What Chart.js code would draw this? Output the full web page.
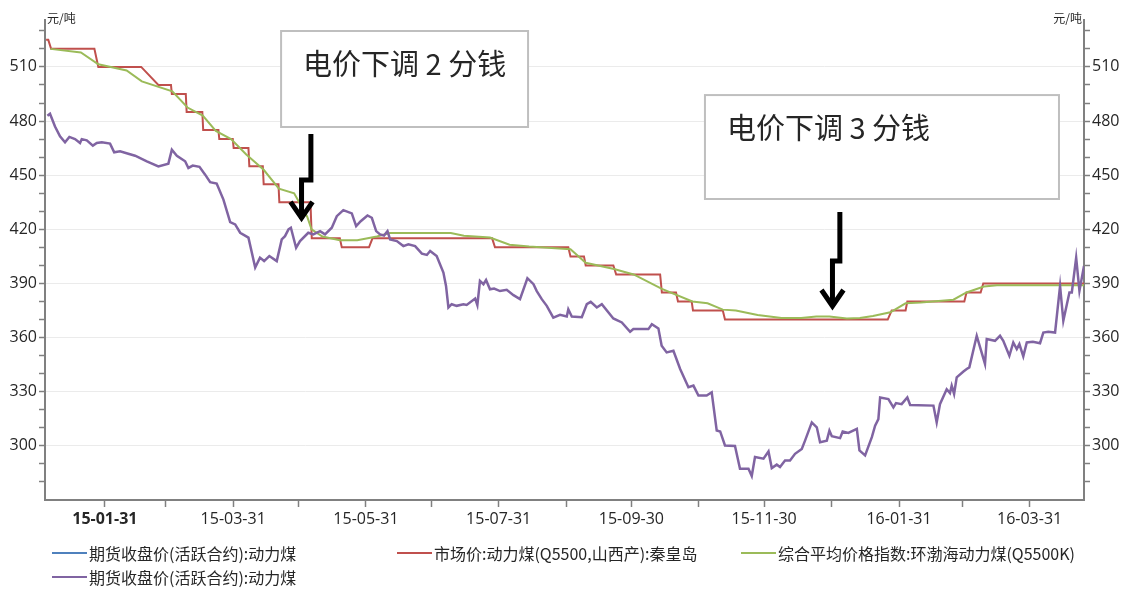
<!DOCTYPE html>
<html>
<head>
<meta charset="utf-8">
<script src="https://cdn.jsdelivr.net/npm/chart.js@4.4.1/dist/chart.umd.min.js"></script>
<style>
  html, body { margin: 0; padding: 0; background: #fff; }
  #wrap { position: relative; width: 1128px; height: 589px; }
  #legend { position: absolute; left: 0; top: 0; width: 1128px; height: 589px; pointer-events: none;
            font-family: "Noto Sans CJK SC", "Noto Sans", sans-serif; font-size: 16px; color: #262626; }
  .item { position: absolute; display: flex; align-items: center; white-space: nowrap; transform: translateY(-50%); }
  .item i { display: inline-block; width: 35px; height: 2px; margin-right: 2px; }
</style>
</head>
<body>
<div id="wrap"><canvas id="c"></canvas><div id="legend"></div></div>
<script>
// x values are days since 2015-01-01
const seriesNames = [
  "期货收盘价(活跃合约):动力煤",
  "市场价:动力煤(Q5500,山西产):秦皇岛",
  "综合平均价格指数:环渤海动力煤(Q5500K)",
  "期货收盘价(活跃合约):动力煤",
];

const futuresBlue = [];

const marketPrice = [
  [3,525],[4,525],[5.3,520],[25.2,520],[27,510],[46.7,510],[54.6,500],[60.4,500],[60.8,495],
  [67.2,495],[67.6,485],[74.8,485],[75.2,475],[82.2,475],[82.6,470],[88.8,470],[89.2,465],
  [96,465],[96.4,455],[102.6,455],[103,445],[109.8,445],[110.2,435],[124.5,435],[125.1,415],
  [138,415],[138.9,410],[151.4,410],[153,415],[208,415],[209.3,410],[243,410],[244,405],
  [250.2,405],[251,400],[263.7,400],[265,395],[285.2,395],[286,385],[292.5,385],[293.4,380],
  [299.7,380],[300.3,375],[314,375],[315,370],[389.8,370],[391.6,375],[398,375],[398.8,380],
  [425,380],[426,385],[432.5,385],[433.7,390],[480,390],
];

const bohaiIndex = [
  [5,520],[19,518],[27,511.5],[40,508],[47,502],[61,496.5],[68,487.5],[75,483],[81,474.5],
  [88,470],[95,461.5],[103,453],[110,442.5],[117,440],[123,427],[125,420],[130,416],[138,414],
  [146,414],[155,416],[161,418],[189,418],[195,416.5],[207,415.5],[216,411.5],[225,410.5],
  [244,409],[251,401.5],[264,398],[273,395],[286,387],[300,380],[307,379],[314,375.5],[320,375],
  [330,372.5],[341,370.8],[350,370.8],[357,371.7],[363,371.7],[371,370.6],[377,370.8],[383,372],
  [391,374],[398,379],[405,379.5],[420,381],[426,385],[434,388.3],[440,389],[469,389],[480,389],
];

const futuresClose = [
  [3.6,482.9],[4.8,484],[7.1,477],[9.4,471.5],[11.7,468.2],[13.7,471.2],[16.3,470],[18.6,467.8],
  [19.4,470],[21.7,469.3],[24.5,466.4],[26.3,467.8],[28.6,468.2],[32.4,467.5],[34.3,462.7],
  [37,463.2],[40.4,462],[43.9,460.8],[49.3,457.7],[54.6,454.9],[59.2,456.4],[60.8,464.1],
  [63.1,460.8],[66.9,457.7],[68.4,454],[70.4,455.3],[73.5,454.6],[76.1,450.3],[78.4,446.1],
  [81.4,445.4],[84.5,436.5],[87.6,424],[89.9,422.7],[92.2,418.1],[96,415.4],[99.1,398.8],
  [101.3,404.3],[103.2,402.4],[105.6,405.2],[109,402.4],[111.3,414.4],[112.8,416.2],[114.4,420],
  [115.5,420.9],[117.9,409.8],[119.7,413.5],[123.5,418.1],[125.8,417.2],[128.9,419],[131.2,417.2],
  [134.3,420.9],[136.6,427.3],[139.6,430.6],[143.5,428.8],[145.5,421.8],[147.6,424.5],[150.7,427.7],
  [152.7,426.4],[154.7,419],[156.5,417.2],[158.3,416.6],[159.9,419],[161.1,414.4],[164.2,413.5],
  [167.2,410.7],[169.5,411.7],[172.6,410.7],[175.7,406.5],[178,405.8],[179.5,408],[182.5,405.2],
  [185.6,396],[186.8,388.6],[187.9,376.7],[189.4,378.5],[191.7,377.6],[194.8,378.5],[196.3,378.1],
  [200.2,381.6],[201.2,378],[202.4,391.4],[204,389.6],[205.2,391.9],[207,386.8],[208.9,387.2],
  [211.6,385.8],[214.7,386.5],[217.8,383.5],[220.8,381.3],[224.2,392.9],[227,389.6],[228.5,385.8],
  [230.8,381.3],[233.1,377.6],[236.1,371.1],[239.2,372.6],[242.3,371.7],[243,375.7],[244.6,371.7],
  [249.2,371.3],[251.5,378.5],[253.3,379.8],[256.1,376.7],[258.4,378.5],[263.7,370.6],[267.6,368.4],
  [271.4,363.2],[272.9,364.7],[279.8,364.7],[281.4,367.4],[284.4,365.1],[285.9,355.5],[288.2,351.8],
  [291.3,352.7],[294.4,342.6],[298.2,332.5],[300.5,333.4],[302.8,327.9],[306.6,327.9],[308.9,329.7],
  [311.2,308.5],[312.8,308],[315,300.2],[319.6,299.9],[321.9,287.3],[325.8,287.3],[327.3,283.3],
  [328.8,293.8],[332.7,292.9],[335,296.9],[336.5,287.7],[338.8,289.6],[340.3,288.3],[342.6,291.9],
  [344.9,291.9],[347.2,295.6],[350.3,298.3],[351.8,302.9],[354.9,313],[357.2,310.3],[358.7,302],
  [361.8,302.9],[363,308.5],[364.1,305.4],[367.9,304.3],[369.1,308],[371.7,307.2],[375.6,309.4],
  [376.8,297.5],[379.4,294.7],[382.5,304.8],[384,311.2],[385.5,314.8],[386.3,326.8],[390.1,325.9],
  [392.4,321.3],[393.6,323.7],[396.2,323.1],[398.8,326.8],[400.1,322.7],[410.8,322.3],[412.3,313],
  [413.8,323.1],[416.9,331.4],[418.4,329.3],[419.2,333.4],[420.3,328.8],[421.5,338],[424.6,341.2],
  [426.1,342.6],[427.3,343.5],[430.7,361],[434.5,345.4],[435.3,359.2],[439.1,358.2],[441.4,361],
  [442.9,358.2],[445.7,349.9],[447.5,357.3],[449.1,353.6],[450.3,356.4],[452.1,349.6],[453.7,357.3],
  [456.5,357.7],[459.8,356.9],[461.3,362.8],[463.6,363.2],[466.7,362.8],[469,388.6],[470.5,369.3],
  [473.3,385],[474.4,385],[476.4,404.3],[477.9,385.9],[480,399.7],
];

const xTickLabels = ["15-01-31","15-03-31","15-05-31","15-07-31","15-09-30","15-11-30","16-01-31","16-03-31"];
const xMinorTicks = ["15-02-28","15-04-30","15-06-30","15-08-31","15-10-31","15-12-31","16-02-29"];
const yTickLabels = [300, 330, 360, 390, 420, 450, 480, 510];
const yMinorTicks = [280, 290, 310, 320, 340, 350, 370, 380, 400, 410, 430, 440, 460, 470, 490, 500, 520, 530];
const unitLabel = "元/吨";

const notes = [
  { text: "电价下调 2 分钱", box: [111, 224.5, 529.9, 476.7], arrow: [124.7, 120.4, 472.8, 447.4, 424.1] },
  { text: "电价下调 3 分钱", box: [305.8, 468.5, 494.4, 436.8], arrow: [367.8, 364.4, 429.6, 402.5, 375.3] },
];

// ── helpers ──────────────────────────────────────────────
function dayOf(label) {
  const [yy, mm, dd] = label.split("-").map(Number);
  return (Date.UTC(2000 + yy, mm - 1, dd) - Date.UTC(2015, 0, 1)) / 864e5;
}
const xLabelByDay = new Map(xTickLabels.map(l => [dayOf(l), l]));
const xTickDays = [...xTickLabels, ...xMinorTicks].map(dayOf).sort((a, b) => a - b);
const yTickAll = [...yTickLabels, ...yMinorTicks].sort((a, b) => a - b);
const toXY = arr => arr.map(([x, y]) => ({ x, y }));

const tickFont = { family: "'Open Sans', sans-serif", size: 16 };
const axisGray = "#808080";

const yAxis = (position, width, grid) => ({
  type: "linear",
  position,
  display: true,
  min: 270,
  max: 536,
  afterBuildTicks: s => { s.ticks = yTickAll.map(v => ({ value: v })); },
  afterFit: s => { s.width = width; },
  border: { color: axisGray, width: 2 },
  grid: {
    drawOnChartArea: grid,
    color: c => yTickLabels.includes(c.tick && c.tick.value) ? "#ebebeb" : "rgba(0,0,0,0)",
    tickColor: axisGray,
    tickLength: 6,
    tickWidth: 1.5,
  },
  ticks: {
    padding: 2,
    color: "#262626",
    font: tickFont,
    autoSkip: false,
    callback: v => yTickLabels.includes(v) ? String(v) : "",
  },
});

const annotate = {
  id: "annotate",
  afterDraw(chart) {
    const { ctx, scales: { x, y } } = chart;
    const ca = chart.chartArea;
    ctx.save();
    ctx.fillStyle = "#262626";
    ctx.font = "12px 'Noto Sans CJK SC', sans-serif";
    ctx.textBaseline = "middle";
    ctx.textAlign = "left";
    ctx.fillText(unitLabel, ca.left + 2, ca.top - 2);
    ctx.textAlign = "right";
    ctx.fillText(unitLabel, ca.right - 2, ca.top - 2);

    notes.forEach(n => {
      const [d1, d2, v1, v2] = n.box;
      const l = x.getPixelForValue(d1), r = x.getPixelForValue(d2);
      const t = y.getPixelForValue(v1), b = y.getPixelForValue(v2);
      ctx.fillStyle = "#fff";
      ctx.fillRect(l, t, r - l, b - t);
      ctx.strokeStyle = "#bfbfbf";
      ctx.lineWidth = 2;
      ctx.strokeRect(l, t, r - l, b - t);
      ctx.fillStyle = "#262626";
      ctx.font = "29px 'Noto Sans CJK SC', sans-serif";
      ctx.textAlign = "left";
      ctx.textBaseline = "middle";
      ctx.fillText(n.text, l + 22, t + 33);

      const [ax1, ax2, ay1, ay2, ay3] = n.arrow;
      const X1 = x.getPixelForValue(ax1), X2 = x.getPixelForValue(ax2);
      const Y1 = y.getPixelForValue(ay1), Y2 = y.getPixelForValue(ay2), Y3 = y.getPixelForValue(ay3);
      ctx.strokeStyle = "#000";
      ctx.lineWidth = 5;
      ctx.lineJoin = "miter";
      ctx.beginPath();
      ctx.moveTo(X1, Y1);
      ctx.lineTo(X1, Y2);
      ctx.lineTo(X2, Y2);
      ctx.lineTo(X2, Y3 - 3);
      ctx.stroke();
      ctx.beginPath();
      ctx.moveTo(X2 - 11, Y3 - 20);
      ctx.lineTo(X2, Y3 - 4);
      ctx.lineTo(X2 + 11, Y3 - 20);
      ctx.stroke();
    });
    ctx.restore();
  },
};

const line = (i, data, color, width, order) => ({
  label: seriesNames[i],
  data: toXY(data),
  borderColor: color,
  backgroundColor: color,
  borderWidth: width,
  pointRadius: 0,
  tension: 0,
  fill: false,
  order,
});

const chart = new Chart(document.getElementById("c").getContext("2d"), {
  type: "line",
  data: {
    datasets: [
      line(0, futuresBlue,  "#4f81bd", 2,   3),
      line(1, marketPrice,  "#c0504d", 2,   2),
      line(2, bohaiIndex,   "#9bbb59", 2,   1),
      line(3, futuresClose, "#8064a2", 2.5, 0),
    ],
  },
  options: {
    responsive: true,
    maintainAspectRatio: false,
    animation: false,
    layout: { padding: { top: 20, left: 0, right: 0, bottom: 0 } },
    plugins: { legend: { display: false }, tooltip: { enabled: false } },
    scales: {
      x: {
        type: "linear",
        min: 2.5,
        max: 480,
        afterBuildTicks: s => { s.ticks = xTickDays.map(v => ({ value: v })); },
        afterFit: s => { s.height = 89; },
        border: { color: axisGray, width: 2 },
        grid: { drawOnChartArea: false, tickColor: axisGray, tickLength: 7, tickWidth: 1.5 },
        ticks: {
          autoSkip: false,
          maxRotation: 0,
          padding: 3,
          color: "#262626",
          font: c => ({ ...tickFont, weight: c.index === 0 ? "bold" : "normal" }),
          callback: v => xLabelByDay.get(v) || "",
        },
      },
      y: yAxis("left", 45, true),
      y2: yAxis("right", 44, false),
    },
  },
  plugins: [annotate],
});

// ── legend (grid of entries under the axis) ─────────────
const legendSlots = [[52, 553], [397, 553], [741, 553], [52, 577]];
const legendEl = document.getElementById("legend");
chart.data.datasets.forEach((ds, i) => {
  const [left, top] = legendSlots[i];
  const item = document.createElement("div");
  item.className = "item";
  item.style.left = left + "px";
  item.style.top = top + "px";
  item.innerHTML = `<i style="background:${ds.borderColor}"></i><span>${ds.label}</span>`;
  legendEl.appendChild(item);
});
</script>
</body>
</html>
